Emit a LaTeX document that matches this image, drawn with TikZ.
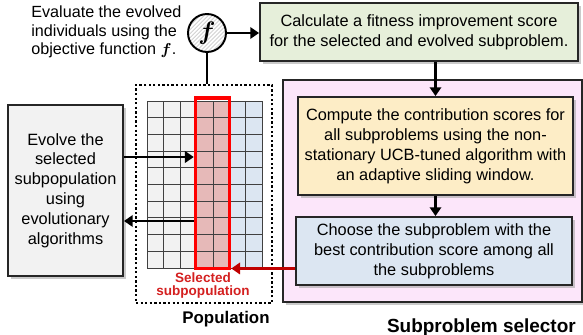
\documentclass[tikz,border=0pt]{standalone}
\usepackage{fontspec}
\setmainfont{Liberation Sans}
\usetikzlibrary{arrows.meta,shadows,patterns.meta,calc}
\definecolor{calcgreen}{HTML}{E6EFDA}
\definecolor{selpink}{HTML}{FCE6FA}
\definecolor{compyellow}{HTML}{FDEDC6}
\definecolor{chooseblue}{HTML}{DCE6F2}
\definecolor{evolvegray}{HTML}{F2F2F2}
\definecolor{cellred}{HTML}{E6B9B8}
\definecolor{arrred}{HTML}{C00000}
\definecolor{labred}{HTML}{D42020}
\tikzset{
    box/.style={draw=black!85, line width=1.1pt, align=center, inner sep=2pt,
      font=\fontsize{9.3}{11.3}\selectfont,
      drop shadow={shadow xshift=1.5pt, shadow yshift=-1.5pt, fill=gray!70, opacity=0.6}},
    arr/.style={line width=1.2pt, -{Triangle[length=5pt,width=6.5pt]}},
    cell/.style={draw=black!75, line width=0.5pt},
    bold label/.style={font=\bfseries\fontsize{#1}{#1}\selectfont},
  }

\begin{document}
\begin{tikzpicture}[x=0.02cm,y=-0.02cm]
                                    %bounding box = 583 x 335 px
                                    \useasboundingbox (0,0) rectangle (583,335);
                                    % subproblem selector
                                    \node[box, fill=selpink, minimum width=5.98cm, minimum height=4.44cm] (sel) at (432.5,191) {};
                                    \node[bold label=10.8, anchor=east] (sellabel) at (582,328) {Subproblem selector};
                                    \node[box, fill=calcgreen, minimum width=6.36cm, minimum height=1.16cm] (calc) at (419,32)
                                         {Calculate a fitness improvement score\\for the selected and evolved subproblem.};
                                    \node[box, fill=compyellow, minimum width=5.5cm, minimum height=1.96cm] (compute) at (435.5,146)
                                         {Compute the contribution scores for\\all subproblems using the non-\\stationary UCB-tuned algorithm with\\an adaptive sliding window.};
                                    \node[box, fill=chooseblue, minimum width=5.52cm, minimum height=1.36cm] (choose) at (434,251)
                                         {Choose the subproblem with the\\best contribution score among all\\the subproblems};
                                    % evolution
                                    \node[box, fill=evolvegray, minimum width=2.3cm, minimum height=3.42cm] (evolve) at (65.5,190.5)
                                         {Evolve the\\selected\\subpopulation\\using\\evolutionary\\algorithms};
                                    \node[anchor=west, align=left, inner sep=0pt, font=\fontsize{9.2}{10.5}\selectfont] (evaltext) at (31,32)
                                         {Evaluate the evolved\\individuals using the\\objective function {\boldmath$f$}.};
                                    \node[circle, draw, line width=1.1pt, minimum size=0.76cm, inner sep=0pt,
                                          preaction={fill=white}, pattern={Lines[angle=45,distance=1.6pt,line width=0.5pt]}, pattern color=gray!35,
                                          font=\fontsize{15}{15}\selectfont\boldmath] (f) at (207,33) {$f$};
                                    % population
                                    \node[draw, line width=1.3pt, dash pattern=on 1.3pt off 1.3pt, minimum width=2.72cm, minimum height=4.36cm] (pop) at (204,194) {};
                                    \node[bold label=9.6] (poplabel) at (226,319) {Population};
                                    \foreach \c/\col in {0/evolvegray,1/evolvegray,2/evolvegray,3/cellred,4/cellred,5/chooseblue,6/chooseblue}
                                      \foreach \r in {0,...,9}
                                        \draw[cell, fill=\col] (147.5+\c*16.4,101+\r*16.7) rectangle ++(16.4,16.7);
                                    \node[draw=red, line width=2pt, minimum width=0.68cm, minimum height=3.41cm] (sub) at (212.5,183.25) {};
                                    \node[bold label=7.7, text=labred, align=center, inner sep=0pt] (sublabel) at (203,285.5) {Selected\\subpopulation};
                                    % connectors
                                    \draw [arr] (f.east) -- (f.east -| calc.west);
                                    \draw [line width=1.2pt] (f.south) -- (f.south |- pop.north);
                                    \draw [arr] (calc.south -| compute) -- (compute.north);
                                    \draw [arr] (compute.south) -- (compute.south |- choose.north);
                                    \draw [arr, draw=arrred, fill=arrred] ([yshift=1pt]choose.west |- sub.south east) -- ([yshift=1pt]sub.south east);
                                    \draw [arr] ([yshift=0.67cm]evolve.east) -- ([yshift=0.67cm]evolve.east -| sub.west);
                                    \draw [arr] ([yshift=-0.61cm]evolve.east -| sub.west) -- ([yshift=-0.61cm]evolve.east);
\end{tikzpicture}
\end{document}
